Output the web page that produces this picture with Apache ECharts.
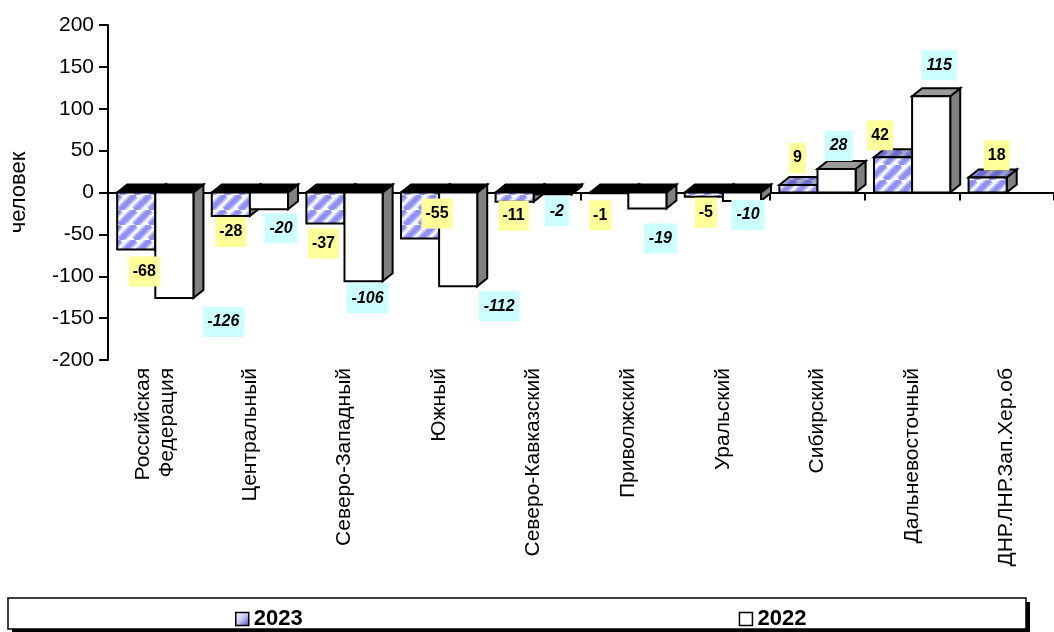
<!DOCTYPE html>
<html><head><meta charset="utf-8">
<script src="https://cdn.jsdelivr.net/npm/echarts@6/dist/echarts.min.js"></script>
<style>html,body{margin:0;padding:0;background:#fff}#c{width:1054px;height:632px}</style>
</head><body><div id="c"></div><script>
// ---- data ----
const categories = ['Российская\nФедерация','Центральный','Северо-Западный','Южный','Северо-Кавказский','Приволжский','Уральский','Сибирский','Дальневосточный','ДНР.ЛНР.Зап.Хер.об'];
const values2023 = [-68,-28,-37,-55,-11,-1,-5,9,42,18];
const values2022 = [-126,-20,-106,-112,-2,-19,-10,28,115,null];
const seriesNames = ['2023','2022'];
const yMin = -200, yMax = 200, yStep = 50;
const yAxisName = 'человек';

// ---- label nudges (styling, px) ----
const nudge2023 = [[8,22],[0,16],[-2,20],[17,-25],[-1,14],[-9,22],[2,16],[-1,-27],[-13,-22],[9,-22]];
const nudge2022 = [[49,24],[12,19],[4,17],[41,20],[4,17],[13,30],[6,14],[2,-23],[8,-31],[0,0]];

const FONT = '"Liberation Sans", Arial, sans-serif';

function makePattern(bg, stripe, soft) {
  const s = 15, cv = document.createElement('canvas');
  cv.width = s; cv.height = s;
  const ctx = cv.getContext('2d');
  ctx.fillStyle = bg; ctx.fillRect(0,0,s,s);
  [[soft,8.5],[stripe,5]].forEach(([col,w]) => {
    ctx.strokeStyle = col; ctx.lineWidth = w;
    for (const off of [-s,0,s]) { ctx.beginPath(); ctx.moveTo(off,s); ctx.lineTo(off+s,0); ctx.stroke(); }
  });
  return {image: cv, repeat: 'repeat'};
}
const frontPat = makePattern('#ffffff','#9090f4','#c4c4fa');
const topPat = makePattern('#a8a8c8','#6a6ad0','#8888c8');

const DX = 10, DY = 8;

function makeRender(which, nudges, bg, italic) {
  return function (params, api) {
    const i = api.value(0), v = api.value(1);
    if (v == null || isNaN(v)) return null;
    const c0 = api.coord([i, 0]), cv = api.coord([i, v]);
    const catW = api.size([1, 0])[0];
    const bw = catW * 0.403;
    const x0 = which === 0 ? c0[0] - bw : c0[0];
    const x1 = x0 + bw;
    const y0 = c0[1], yv = cv[1];
    const yt = Math.min(y0, yv), yb = Math.max(y0, yv);
    const pos = v > 0;
    const stroke = {stroke: '#000', lineWidth: 2, lineJoin: 'miter'};
    const topFill = pos ? (which === 0 ? topPat : '#9a9a9a') : '#000';
    const frontFill = which === 0 ? frontPat : '#ffffff';
    const n = nudges[i] || [0, 0];
    return {
      type: 'group',
      children: [
        {type: 'polygon', shape: {points: [[x1, yt], [x1 + DX, yt - DY], [x1 + DX, yb - DY], [x1, yb]]},
          style: Object.assign({fill: '#808080'}, stroke)},
        {type: 'polygon', shape: {points: [[x0, yt], [x1, yt], [x1 + DX, yt - DY], [x0 + DX, yt - DY]]},
          style: Object.assign({fill: topFill}, stroke)},
        {type: 'rect', shape: {x: x0, y: yt, width: bw, height: Math.max(yb - yt, 0.5)},
          style: Object.assign({fill: frontFill}, stroke)},
        {type: 'text', x: x0 + bw / 2 + n[0], y: yv + n[1], z2: 10,
          style: {text: String(v), fill: '#000', fontFamily: FONT, fontSize: 16, fontWeight: 'bold',
            fontStyle: italic ? 'italic' : 'normal', backgroundColor: bg, padding: italic ? [7, 5] : [7, 4],
            lineHeight: 16, align: 'center', verticalAlign: 'middle'}}
      ]
    };
  };
}

const chart = echarts.init(document.getElementById('c'), null, {renderer: 'canvas'});
chart.setOption({
  animation: false,
  backgroundColor: '#fff',
  grid: {left: 105, right: -8, top: 25, bottom: 272, containLabel: false},
  xAxis: [
    {type: 'category', data: categories, boundaryGap: true,
      axisLine: {onZero: true, lineStyle: {color: '#000', width: 2}},
      axisTick: {show: true, length: 8, interval: 0, lineStyle: {color: '#000', width: 2}},
      axisLabel: {show: false}, splitLine: {show: false}},
    {type: 'category', data: categories, position: 'bottom', boundaryGap: true,
      axisLine: {show: false, onZero: false}, axisTick: {show: false},
      axisLabel: {interval: 0, rotate: 90, margin: 8, fontSize: 21, lineHeight: 24, color: '#000', fontFamily: FONT},
      splitLine: {show: false}}
  ],
  yAxis: {type: 'value', min: yMin, max: yMax, interval: yStep,
    name: yAxisName, nameLocation: 'middle', nameRotate: 90, nameGap: 78,
    nameTextStyle: {fontSize: 22, color: '#000', fontFamily: FONT},
    axisLine: {show: true, lineStyle: {color: '#000', width: 2}},
    axisTick: {show: true, length: 9, lineStyle: {color: '#000', width: 2}},
    axisLabel: {fontSize: 21, color: '#000', margin: 14, fontFamily: FONT},
    splitLine: {show: false}},
  legend: {
    left: 230, top: 603, itemWidth: 13, itemHeight: 13, itemGap: 436, z: 10,
    textStyle: {fontSize: 22, fontWeight: 'bold', color: '#000', fontFamily: FONT},
    data: [
      {name: seriesNames[0], icon: 'rect', itemStyle: {color: {type: 'linear', x: 0, y: 0, x2: 1, y2: 1,
        colorStops: [{offset: 0, color: '#ffffff'}, {offset: 0.5, color: '#c8c8f4'}, {offset: 1, color: '#4040c0'}]},
        borderColor: '#000', borderWidth: 1.5}},
      {name: seriesNames[1], icon: 'rect', itemStyle: {color: '#fff', borderColor: '#000', borderWidth: 1.5}}
    ]
  },
  graphic: [
    {type: 'rect', z: 1, shape: {x: 12, y: 602, width: 1018, height: 31}, style: {fill: '#000'}},
    {type: 'rect', z: 2, shape: {x: 8, y: 598, width: 1018, height: 31}, style: {fill: '#fff', stroke: '#000', lineWidth: 1.5}}
  ],
  series: [
    {type: 'custom', name: seriesNames[0], xAxisIndex: 0, clip: false,
      itemStyle: {color: '#9c9cf6'},
      renderItem: makeRender(0, nudge2023, '#ffff99', false),
      encode: {x: 0, y: 1},
      data: values2023.map((v, i) => [i, v])},
    {type: 'custom', name: seriesNames[1], xAxisIndex: 0, clip: false,
      itemStyle: {color: '#fff'},
      renderItem: makeRender(1, nudge2022, '#ccffff', true),
      encode: {x: 0, y: 1},
      data: values2022.map((v, i) => [i, v == null ? '-' : v])}
  ]
});
</script></body></html>
